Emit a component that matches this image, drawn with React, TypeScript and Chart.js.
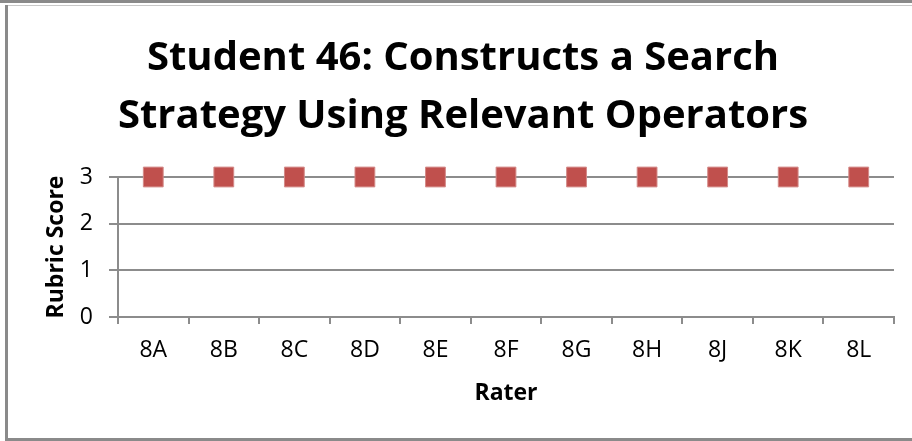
import React, { useEffect, useRef } from "react";
import { Chart, registerables } from "chart.js";

Chart.register(...registerables);

const titleLines = ["Student 46: Constructs a Search", "Strategy Using Relevant Operators"];
const raters = ["8A", "8B", "8C", "8D", "8E", "8F", "8G", "8H", "8J", "8K", "8L"];
const scores = [3, 3, 3, 3, 3, 3, 3, 3, 3, 3, 3];
const yTicks = [0, 1, 2, 3];
const xAxisTitle = "Rater";
const yAxisTitle = "Rubric Score";

const FONT = "'Open Sans', 'Noto Sans', sans-serif";
const GRID = "#8c8c8c";

const framePlugin = {
  id: "frame",
  afterDraw(chart: any) {
    const ctx = chart.ctx;
    ctx.save();
    ctx.fillStyle = "#8a8a8a";
    ctx.fillRect(0, 0, 912, 3);
    ctx.fillRect(5, 5, 3, 436);
    ctx.fillRect(5, 438, 907, 3);
    ctx.fillStyle = "#c8c8c8";
    ctx.fillRect(8, 5, 904, 1);
    ctx.restore();
  },
};

export default function App() {
  const ref = useRef<HTMLCanvasElement>(null);
  useEffect(() => {
    const chart = new Chart(ref.current!, {
      type: "line",
      data: {
        labels: raters,
        datasets: [
          {
            data: scores,
            showLine: false,
            pointStyle: "rect",
            pointRadius: 14,
            pointHoverRadius: 14,
            backgroundColor: "#C0504D",
            borderColor: "#D48A88",
            pointBorderWidth: 1,
            clip: false,
          },
        ],
      },
      options: {
        animation: false,
        responsive: false,
        events: [],
        layout: { padding: { left: 32, right: 18, top: 0, bottom: 0 } },
        plugins: {
          legend: { display: false },
          tooltip: { enabled: false },
          title: {
            display: true,
            text: titleLines,
            color: "#000",
            font: { family: FONT, size: 40, weight: "bold", lineHeight: 1.45 },
            padding: { top: 30, bottom: 31 },
          },
        },
        scales: {
          x: {
            type: "category",
            offset: true,
            grid: {
              offset: true,
              drawOnChartArea: false,
              color: GRID,
              lineWidth: 2,
              tickLength: 7,
            },
            border: { color: GRID, width: 2 },
            ticks: { color: "#000", font: { family: FONT, size: 23 }, padding: 13, maxRotation: 0 },
            title: {
              display: true,
              text: xAxisTitle,
              color: "#000",
              font: { family: FONT, size: 23, weight: "bold", lineHeight: 1.2 },
              padding: { top: 0, bottom: 34 },
            },
            afterFit(scale: any) {
              scale.height = 124;
            },
          },
          y: {
            min: 0,
            max: 3,
            grid: { color: GRID, lineWidth: 2, tickLength: 9 },
            border: { color: GRID, width: 2 },
            ticks: {
              stepSize: 1,
              color: "#000",
              font: { family: FONT, size: 23 },
              padding: 16,
              callback: (v: any) => (yTicks.includes(v) ? String(v) : ""),
            },
            title: {
              display: true,
              text: yAxisTitle,
              color: "#000",
              font: { family: FONT, size: 23, weight: "bold", lineHeight: 1.2 },
              padding: { top: 11, bottom: 0 },
            },
            afterFit(scale: any) {
              scale.width = 86;
            },
          },
        },
      },
      plugins: [framePlugin],
    });
    return () => chart.destroy();
  }, []);
  return (
    <div style={{ position: "fixed", left: 0, top: 0, width: 912, height: 441, background: "#fff" }}>
      <canvas ref={ref} width={912} height={441} style={{ width: 912, height: 441, display: "block" }} />
    </div>
  );
}
